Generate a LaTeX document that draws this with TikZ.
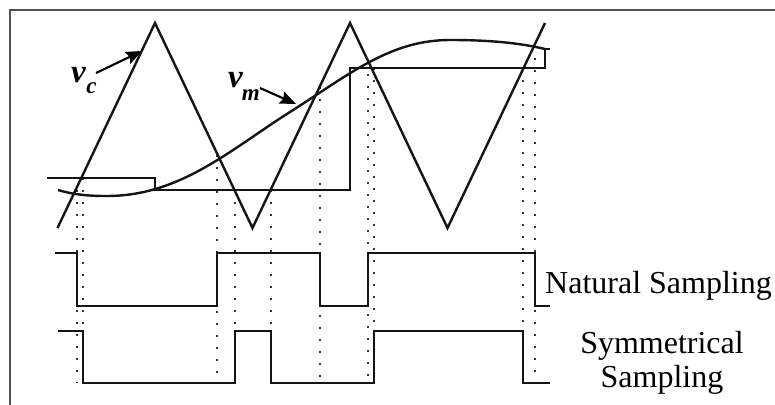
\documentclass[tikz,border=0pt]{standalone}
\usepackage{fontspec}
\setmainfont{Liberation Serif}
\usetikzlibrary{arrows.meta}
\begin{document}
\begin{tikzpicture}[x=1pt,y=-1pt,
  wave/.style={line width=2.4pt, black!92, line join=miter},
  guide/.style={line width=2.4pt, black!80, dash pattern=on 2.4pt off 9.6pt},
  frameline/.style={line width=2.8pt, black!68},
  pointer/.style={line width=2.1pt, black, -{Stealth[length=16pt,width=13pt,inset=2.5pt]}},
  sig/.style={inner sep=0pt, font=\fontsize{33}{33}\selectfont\bfseries\itshape},
  caption/.style={inner sep=0pt, font=\fontsize{32}{34}\selectfont}]
\useasboundingbox (0,0) rectangle (775,404);
\fill[white] (0,0) rectangle (775,404);
% frame (cut off at right and bottom)
\draw[frameline] (10,410) -- (10,10) -- (780,10);

% dotted guide lines: natural sampling instants
\foreach \x/\y in {77/190, 217/155, 320/87, 368/62, 535/46}
  \draw[guide] (\x,\y) -- (\x,383);
% dotted guide lines: symmetrical sampling instants
\foreach \x/\y in {83/178, 235/190, 271/190, 374/68, 523/68}
  \draw[guide] (\x,\y) -- (\x,383);

% carrier triangle v_c
\draw[wave] (57.5,228) -- (155,23) -- (252.5,228) -- (350,23) -- (447.5,228) -- (545,23);

% sampled (stepped) modulating signal
\draw[wave] (47,178) -- (155,178) -- (155,190) -- (350,190) -- (350,68) -- (545,68) -- (545,49) -- (550,49);

% modulating signal v_m
\draw[wave] (58,190) .. controls (75,195) and (90,196) .. (107,196)
  .. controls (180,196) and (230,150) .. (290,112)
  .. controls (350,74) and (390,40) .. (450,40)
  .. controls (490,40) and (520,43) .. (545,49);

% natural sampling pulse train
\draw[wave] (55,253) -- (77,253) -- (77,306) -- (217,306) -- (217,253) -- (320,253)
  -- (320,306) -- (368,306) -- (368,253) -- (535,253) -- (535,306) -- (550,306);

% symmetrical sampling pulse train
\draw[wave] (58,331) -- (83,331) -- (83,383) -- (235,383) -- (235,331) -- (271,331)
  -- (271,383) -- (374,383) -- (374,331) -- (523,331) -- (523,383) -- (550,383);

% labels
\node[sig, anchor=base west] (vc) at (71,82) {v\kern0.5pt\raisebox{-11pt}{\fontsize{23}{23}\selectfont c}};
\node[sig, anchor=base west] (vm) at (228,87) {v\kern-1pt\raisebox{-13pt}{\fontsize{23}{23}\selectfont m}};
\coordinate (vcfrom) at (96,73);
\coordinate (vcto) at (142,51);
\coordinate (vmfrom) at (260,88);
\coordinate (vmto) at (296,104);
\draw[pointer] (vcfrom) -- (vcto);
\draw[pointer] (vmfrom) -- (vmto);

\node[caption, anchor=base west] (nat) at (545,293) {Natural Sampling};
\node[caption, anchor=base] (sym1) at (662,353) {Symmetrical};
\node[caption, anchor=base] (sym2) at (662,387) {Sampling};
\end{tikzpicture}
\end{document}
